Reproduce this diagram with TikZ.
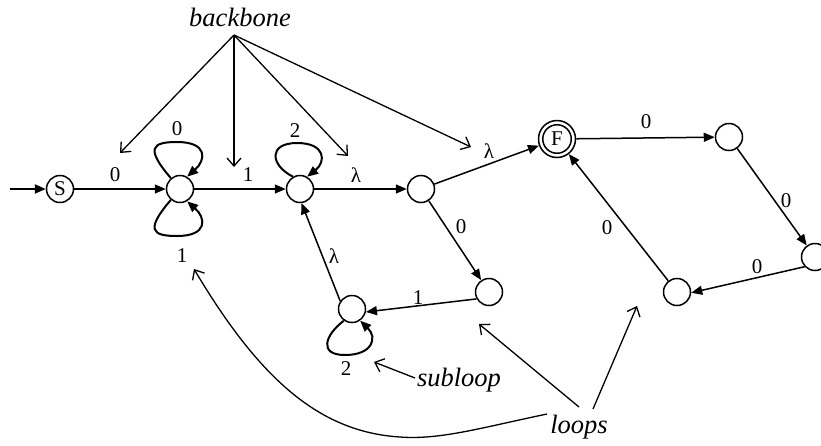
\documentclass[tikz,border=0pt]{standalone}
\usepackage{fontspec}
\setmainfont{Liberation Serif}
\usetikzlibrary{arrows.meta}
\begin{document}
\begin{tikzpicture}[x=1pt,y=-1pt,
  state/.style={circle,draw,line width=1.5pt,minimum size=27pt,inner sep=0pt,
    font=\fontsize{21}{21}\selectfont},
  lbl/.style={inner sep=0pt,font=\fontsize{21}{21}\selectfont},
  edge/.style={line width=1.5pt,-{Triangle[length=11pt,width=9pt]}},
  entry/.style={line width=2.2pt,-{Triangle[length=11pt,width=9pt]}},
  loopline/.style={line width=2pt,-{Triangle[length=11pt,width=9pt]}},
  note/.style={inner sep=0pt,font=\itshape\fontsize{26.5}{27}\selectfont},
  pointer/.style={line width=1.3pt,-{Straight Barb[length=8pt,width=14pt]}}
]
\useasboundingbox (0,0) rectangle (821,445);

% states
\node[state] (S) at (60,189) {S};
\node[state] (A) at (180,189) {};
\node[state] (B) at (300,189) {};
\node[state] (C) at (421,189) {};
\node[state] (D) at (489,292) {};
\node[state] (E) at (352,309) {};
\node[state,minimum size=37pt] (F) at (557,139) {F};
\node[state,minimum size=28.5pt] (Fin) at (F) {};
\node[state] (G) at (729,137) {};
\node[state] (H) at (815,257) {};
\node[state] (I) at (677,292) {};

% entry arrow
\coordinate (in) at (10,189);
\draw[entry] (in) -- (S);

% backbone
\draw[edge] (S) -- (A) node[lbl,at={(115,175)}] {0};
\draw[edge] (A) -- (B) node[lbl,at={(248,175)}] {1};
\draw[edge] (B) -- (C) node[lbl,at={(356,175)}] {λ};
\draw[edge] (C) -- (F) node[lbl,at={(489,151)}] {λ};

% self loops
\draw[loopline] (A.130) .. controls (145,148) and (152,142) .. (177,142)
  .. controls (208,142) and (206,160) .. (A.60);
\node[lbl] (la0) at (177,129) {0};
\draw[loopline] (A.-130) .. controls (145,230) and (152,236) .. (177,236)
  .. controls (208,236) and (206,218) .. (A.-60);
\node[lbl] (la1) at (182,256) {1};
\draw[loopline] (B.120) .. controls (270,165) and (268,143) .. (297,143)
  .. controls (326,143) and (326,162) .. (B.60);
\node[lbl] (lb2) at (295,131) {2};
\draw[loopline] (E.-125) .. controls (325,335) and (318,355) .. (345,355)
  .. controls (372,355) and (378,338) .. (E.-55);
\node[lbl] (le2) at (346,369) {2};

% inner cycle
\draw[edge] (C) -- (D) node[lbl,at={(461,227)}] {0};
\draw[edge] (D.209) -- (E.-12) node[lbl,at={(418,298)}] {1};
\draw[edge] (E.146) -- (B.-84) node[lbl,at={(334,256)}] {λ};

% outer cycle
\draw[edge] (F) -- (G) node[lbl,at={(646,122)}] {0};
\draw[edge] (G) -- (H) node[lbl,at={(786,201)}] {0};
\draw[edge] (H.223) -- (I.-3) node[lbl,at={(757,267)}] {0};
\draw[edge] (I) -- (F) node[lbl,at={(607,228)}] {0};

% annotations
\node[note] (backbone) at (240,17) {backbone};
\node[note] (subloop) at (459,380) {subloop};
\node[note] (loops) at (579,427) {loops};

\coordinate (bbroot) at (234,35);
\coordinate (bb1) at (120,153);
\coordinate (bb2) at (234,167);
\coordinate (bb3) at (348,156);
\coordinate (bb4) at (471,147);
\draw[pointer] (bbroot) -- (bb1);
\draw[pointer] (bbroot) -- (bb2);
\draw[pointer] (bbroot) -- (bb3);
\draw[pointer] (bbroot) -- (bb4);

\coordinate (sbstart) at (415,378);
\coordinate (sbtip) at (374,362);
\draw[pointer] (sbstart) -- (sbtip);

\coordinate (lp0) at (547,414);
\coordinate (lp1) at (194,269);
\coordinate (lp2s) at (579,407);
\coordinate (lp2) at (479,324);
\coordinate (lp3s) at (593,409);
\coordinate (lp3) at (637,306);
\draw[pointer] (lp0) .. controls (480,428) and (440,440) .. (400,437)
  .. controls (320,432) and (260,380) .. (lp1);
\draw[pointer] (lp2s) -- (lp2);
\draw[pointer] (lp3s) -- (lp3);
\end{tikzpicture}
\end{document}
